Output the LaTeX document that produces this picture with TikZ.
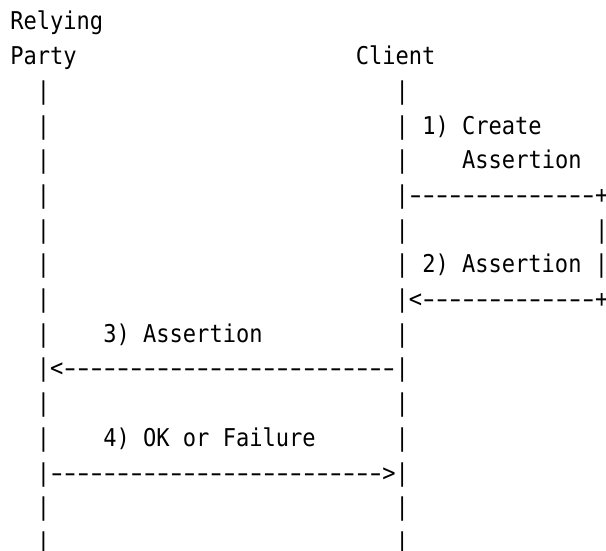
\documentclass[tikz,border=0pt]{standalone}
\usepackage{fontspec}
\usepackage{graphicx}
\setmonofont[FakeStretch=0.9]{DejaVu Sans Mono}
\newcommand\asciicell[4]{\node[ascii] (#1) at ({10.3+#2*13.29},{551-30-#3*34.7}) {#4};}
\newcommand\dsh{\hbox to 13.29pt{\hss\scalebox{1.55}[1]{-}\hss}}
\newcommand\dashes[1]{\foreach \i in {1,...,#1}{\dsh}}
\begin{document}
\begin{tikzpicture}[x=1pt,y=1pt,
  ascii/.style={inner sep=0pt, outer sep=0pt, anchor=base west,
    font=\ttfamily\fontsize{24.5pt}{24.5pt}\selectfont}]
\useasboundingbox (0,0) rectangle (606,551);
% headers
\asciicell{rp1}{0}{0}{Relying}
\asciicell{rp2}{0}{1}{Party}
\asciicell{cl}{26}{1}{Client}
% left lifeline (Relying Party)
\foreach \r in {2,3,4,5,6,7,8,9,11,12,14,15}{
  \asciicell{L\r}{2}{\r}{|}
}
% client lifeline
\foreach \r in {2,4,6,9,11,12,14,15}{
  \asciicell{C\r}{29}{\r}{|}
}
% 1) Create Assertion (self message)
\asciicell{m1a}{29}{3}{| 1) Create}
\asciicell{m1b}{34}{4}{Assertion}
\asciicell{m1c}{29}{5}{|\dashes{14}+}
\asciicell{R6}{44}{6}{|}
% 2) Assertion
\asciicell{m2a}{29}{7}{| 2) Assertion |}
\asciicell{m2b}{29}{8}{|<\dashes{13}+}
% 3) Assertion
\asciicell{m3a}{7}{9}{3) Assertion}
\asciicell{m3b}{2}{10}{|<\dashes{25}|}
% 4) OK or Failure
\asciicell{m4a}{7}{12}{4) OK or Failure}
\asciicell{m4b}{2}{13}{|\dashes{25}>|}
\end{tikzpicture}
\end{document}
